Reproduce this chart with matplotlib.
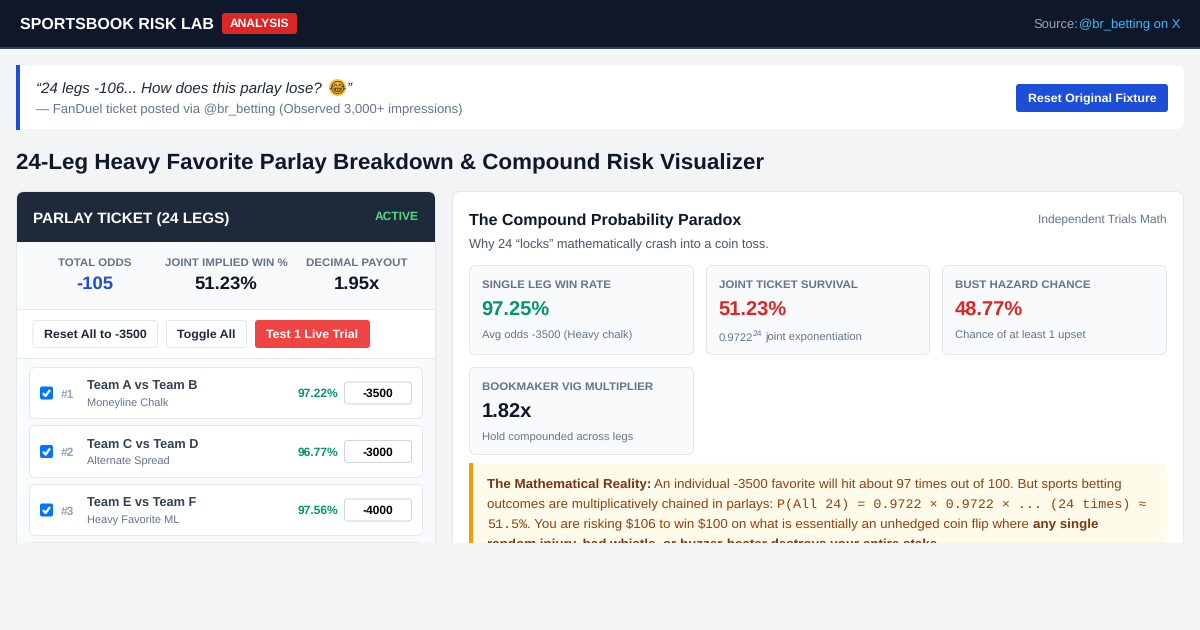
#Sportsbook risk lab dashboard, drawn on one pixel-sized axes
import matplotlib
matplotlib.use("Agg")
import matplotlib.pyplot as plt
from matplotlib.patches import Rectangle, FancyBboxPatch, Circle

plt.rcParams.update({"font.family":["Liberation Sans","DejaVu Sans"],
    "text.hinting":"no_hinting","text.parse_math":False})

stat_labels = ["TOTAL ODDS", "JOINT IMPLIED WIN %", "DECIMAL PAYOUT"]
stat_values = ["-105", "51.23%", "1.95x"]
button_labels = ["Reset All to -3500", "Toggle All", "Test 1 Live Trial"]
leg_teams = ["Team A vs Team B", "Team C vs Team D", "Team E vs Team F"]
leg_markets = ["Moneyline Chalk", "Alternate Spread", "Heavy Favorite ML"]
leg_pcts = [97.22, 96.77, 97.56]
leg_odds = [-3500, -3000, -4000]
metric_labels = ["SINGLE LEG WIN RATE", "JOINT TICKET SURVIVAL", "BUST HAZARD CHANCE", "BOOKMAKER VIG MULTIPLIER"]
metric_values = ["97.25%", "51.23%", "48.77%", "1.82x"]
metric_subs = ["Avg odds -3500 (Heavy chalk)", None, "Chance of at least 1 upset", "Hold compounded across legs"]

NAVY="#0f172a"; SLATE="#1e293b"; GREY="#64748b"; LINE="#e2e8f0"; PAGE="#f3f4f6"
BLUE="#1d4ed8"; GREEN="#059669"; RED="#dc2626"; SOFT="#f8fafc"
metric_colors = [GREEN, RED, RED, NAVY]
stat_colors = [BLUE, NAVY, NAVY]

fig = plt.figure(figsize=(12,6.3), dpi=100, facecolor=PAGE)
ax = fig.add_axes([0,0,1,1])
ax.set_xlim(0,1200); ax.set_ylim(630,0); ax.axis("off")

def box(x0,y0,x1,y1,fc="white",ec="none",r=0,lw=0.72,z=1):
    if r:
        p = FancyBboxPatch((x0,y0),x1-x0,y1-y0,boxstyle=f"round,pad=0,rounding_size={r}",
                           fc=fc,ec=ec,lw=lw,zorder=z)
    else:
        p = Rectangle((x0,y0),x1-x0,y1-y0,fc=fc,ec=ec,lw=lw,zorder=z)
    ax.add_patch(p)

def txt(x,y,s,px,color=NAVY,weight="normal",ha="left",style="normal",family=None,z=5):
    return ax.text(x,y,s,fontsize=px*0.72,color=color,fontweight=weight,ha=ha,va="baseline",
                   fontstyle=style,family=family,zorder=z)

def runs(x,y,parts):
    #text pieces one after the other on the same baseline
    r = fig.canvas.get_renderer()
    for s,px,color,weight,family in parts:
        t = txt(x,y,s,px,color,weight,family=family)
        x = t.get_window_extent(r).x1
    return x

#top bar
box(0,0,1200,47,fc=NAVY)
box(0,47,1200,49,fc="#334155")
txt(20,29,"SPORTSBOOK RISK LAB",16,"white","bold")
box(222,13,297,34,fc=RED,r=3)
txt(259.5,27,"ANALYSIS",12,"white","bold",ha="center")
txt(1180,28,"@br_betting on X",13,"#38bdf8",ha="right")
txt(1033,28,"Source:",13,"#94a3b8")

#quote card
box(16,65,1184,130,fc="#eceef1",r=8,z=0.5)
box(16,65,1184,129.5,fc="white",r=8)
box(16,65,20,130,fc=BLUE,z=2)
txt(36,93,"\u201c24 legs -106... How does this parlay lose?",15.15,SLATE,style="italic")
ax.add_patch(Circle((337.5,87.5),8.5,fc="#fcc21b",ec="none",zorder=4))
txt(337.5,93,"\U0001F602",15,"#5d4037",ha="center")
txt(346.5,93,"\u201d",15,SLATE,style="italic")
txt(36,113,"\u2014 FanDuel ticket posted via @br_betting (Observed 3,000+ impressions)",13.1,GREY)
box(1016,84,1168,112,fc=BLUE,r=3)
txt(1092,102.5,"Reset Original Fixture",12.4,"white","bold",ha="center")

txt(16,169,"24-Leg Heavy Favorite Parlay Breakdown & Compound Risk Visualizer",22.4,NAVY,"bold")

#left panel
box(16.5,191.5,435.5,640,fc="white",ec=LINE,r=8)
box(17,192,435,242,fc=SLATE,r=7,z=2)
box(17,210,435,242,fc=SLATE,z=2)
txt(33,222.5,"PARLAY TICKET (24 LEGS)",15.2,"white","bold",z=6)
txt(419,220,"ACTIVE",12,"#4ade80","bold",ha="right",z=6)
box(17,242,435,309,fc=SOFT)
box(17,309,435,310,fc=LINE)
for cx,lab,val,c in zip([94.5,226,357],stat_labels,stat_values,stat_colors):
    txt(cx,266.3,lab,11.5,GREY,"bold",ha="center")
    txt(cx,289,val,18.5,c,"bold",ha="center")

for (x0,x1),lab,i in zip([(33,157.5),(166.5,246.5),(255,370)],button_labels,range(3)):
    if i==2:
        box(x0,320,x1,348,fc="#ef4444",r=3)
    else:
        box(x0,320.5,x1,347.5,fc="white",ec=LINE,r=3)
    txt((x0+x1)/2,338.3,lab,12.4,"white" if i==2 else SLATE,"bold",ha="center")
box(17,358,435,359,fc=LINE)
box(17,359,435,640,fc=SOFT)

for top,bot,team,market,pct,odds,n in zip([367.5,425.5,484.5],[418.5,477.5,535.5],leg_teams,leg_markets,leg_pcts,leg_odds,[1,2,3]):
    box(29.5,top,422.5,bot,fc="white",ec=LINE,r=6,z=2)
    mid = (top+bot)/2
    box(40,mid-6.5,53,mid+6.5,fc="#0075ff",r=2,z=3)
    ax.plot([43,45.6,50],[mid+0.2,mid+3,mid-3],color="white",lw=1.7,zorder=4,solid_capstyle="butt")
    txt(61,mid+4.5,f"#{n}",12,"#94a3b8","bold")
    txt(87,top+22.2,team,12.75,"#334155","bold")
    txt(87,top+39.3,market,11,GREY)
    txt(338,mid+4,f"{pct:.2f}%",12,GREEN,"bold",ha="right")
    box(344.5,mid-11,411.5,mid+11,fc="white",ec="#cbd5e1",r=3,z=3)
    txt(378,mid+4.3,str(odds),12,"black","bold",ha="center")
box(29.5,542.5,422.5,600,fc="white",ec=LINE,r=6,z=2)

#right panel
box(452.5,191.5,1183.5,640,fc="white",ec=LINE,r=8)
txt(469,225,"The Compound Probability Paradox",16,NAVY,"bold")
txt(1167,223.7,"Independent Trials Math",12,GREY,ha="right")
txt(469,248,"Why 24 \u201clocks\u201d mathematically crash into a coin toss.",12.77,"#475569")

cards = [(469.5,265.5,693.5,354.5),(706.5,265.5,929.5,354.5),(942.5,265.5,1166.5,354.5),(469.5,367.5,693.5,454.5)]
for (x0,y0,x1,y1),lab,val,sub,c in zip(cards,metric_labels,metric_values,metric_subs,metric_colors):
    box(x0,y0,x1,y1,fc=SOFT,ec=LINE,r=6,z=2)
    txt(x0+12.5,y0+22.5,lab,11.5,GREY,"bold")
    txt(x0+12,y0+50.5,val,20.2,c,"bold")
    if sub:
        txt(x0+12.5,y0+73.2,sub,11.2,GREY)
x = runs(719,340.5,[("0.9722",11.2,GREY,"normal",None)])
txt(x-1,335.5,"24",8.5,GREY)
txt(x+12,340.5,"joint exponentiation",11.2,GREY)

#callout
box(469,463,1167,640,fc="#fffbeb",r=8,z=2)
box(469,463,473,640,fc="#f59e0b",z=3)
BR="#92400e"; BD="#78350f"; M="Liberation Mono"
runs(487,488,[("The Mathematical Reality:",13.44,BD,"bold",None),
              (" An individual -3500 favorite will hit about 97 times out of 100. But sports betting",13.44,BR,"normal",None)])
runs(487,508,[("outcomes are multiplicatively chained in parlays: ",13.44,BR,"normal",None),
              ("P(All 24) = 0.9722 \u00d7 0.9722 \u00d7 ... (24 times) \u2248",13.44,BR,"normal",M)])
runs(487,528,[("51.5%",13.44,BR,"normal",M),
              (". You are risking $106 to win $100 on what is essentially an unhedged coin flip where ",13.44,BR,"normal",None),
              ("any single",13.44,BD,"bold",None)])
txt(487,548,"random injury, bad whistle, or buzzer-beater destroys your entire stake.",13.44,BD,"bold")

#page is cut off here
box(0,543,1200,630,fc=PAGE,z=10)

fig.savefig("out.png", dpi=100, facecolor=PAGE)
print("saved")
